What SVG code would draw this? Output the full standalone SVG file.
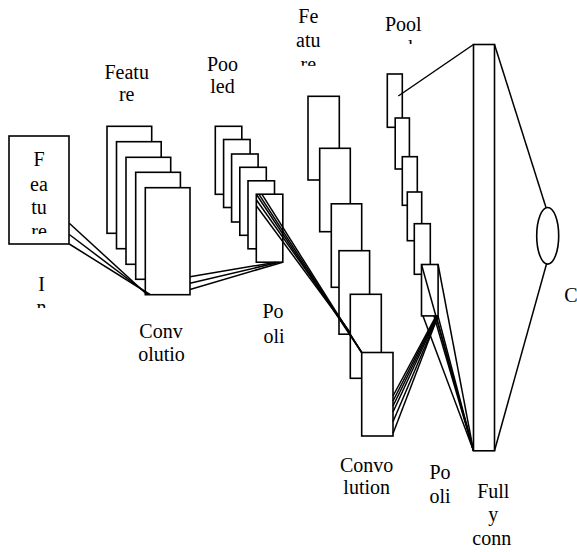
<svg xmlns="http://www.w3.org/2000/svg" width="577" height="552" viewBox="0 0 577 552">
<style>
.b{fill:#fff;stroke:#000;stroke-width:1.6}
.l{stroke:#000;stroke-width:1.5;fill:none}
.t{font-family:"Times New Roman",Tinos,"Liberation Serif","Noto Serif","DejaVu Serif",serif;font-size:20px;fill:#000;text-anchor:middle}
</style>
<defs>
<clipPath id="c1"><rect x="9" y="136" width="60" height="98"/></clipPath>
<clipPath id="c2"><rect x="0" y="260" width="90" height="48"/></clipPath>
<clipPath id="c3"><rect x="280" y="0" width="60" height="65.7"/></clipPath>
<clipPath id="c4"><rect x="370" y="0" width="70" height="44"/></clipPath>
<clipPath id="c5"><rect x="410" y="450" width="60" height="53.5"/></clipPath>
</defs>
<g id="input">
<rect class="b" x="9" y="136" width="60" height="108"/>
<g clip-path="url(#c1)" class="t">
<text x="39" y="166">F</text>
<text x="39" y="190.5">ea</text>
<text x="39" y="214.3">tu</text>
<text x="39" y="238.3">re</text>
</g>
<g clip-path="url(#c2)" class="t">
<text x="41.5" y="290.7">I</text>
<text x="41.5" y="314.3">n</text>
</g>
</g>
<g id="conv1">
<rect class="b" x="107" y="126.3" width="44.7" height="107"/>
<rect class="b" x="116.5" y="141.7" width="44.7" height="107"/>
<rect class="b" x="126" y="157.3" width="44.7" height="107"/>
<rect class="b" x="135.7" y="172.3" width="44.7" height="107"/>
<rect class="b" x="145.3" y="187.7" width="44.7" height="107"/>
<g class="t">
<text x="126.7" y="79.3">Featu</text>
<text x="126.7" y="101">re</text>
<text x="161" y="337.7">Conv</text>
<text x="161.5" y="360.7">olutio</text>
</g>
</g>
<g id="pool1">
<rect class="b" x="215.3" y="126.3" width="26.5" height="68"/>
<rect class="b" x="223.6" y="139.5" width="26.5" height="68"/>
<rect class="b" x="231.6" y="154" width="26.5" height="68"/>
<rect class="b" x="239.8" y="167.3" width="26.5" height="68"/>
<rect class="b" x="248" y="180.8" width="26.5" height="68"/>
<rect class="b" x="256.3" y="194.2" width="26.5" height="68"/>
<g class="t">
<text x="222.5" y="70.7">Poo</text>
<text x="222.5" y="93.3">led</text>
<text x="273" y="318.3">Po</text>
<text x="274" y="342.7">oli</text>
</g>
</g>
<g id="conv2">
<rect class="b" x="308" y="96.3" width="31.3" height="83.7"/>
<rect class="b" x="319.7" y="148.3" width="30.6" height="83.4"/>
<rect class="b" x="331.3" y="203.8" width="30.4" height="83.5"/>
<rect class="b" x="339" y="250.7" width="30.6" height="83.5"/>
<rect class="b" x="350.3" y="294.3" width="31" height="84"/>
<rect class="b" x="361.7" y="352.5" width="31.3" height="83.5"/>
<g clip-path="url(#c3)" class="t">
<text x="308.3" y="23.3">Fe</text>
<text x="308.3" y="47">atu</text>
<text x="308.3" y="70.6">re</text>
</g>
<g class="t">
<text x="366.7" y="471.7">Convo</text>
<text x="366.7" y="494.3">lution</text>
</g>
</g>
<g id="pool2">
<rect class="b" x="387.3" y="74" width="15" height="53.3"/>
<rect class="b" x="395.2" y="118" width="14.2" height="51"/>
<rect class="b" x="402.3" y="156.7" width="15" height="48.6"/>
<rect class="b" x="407.3" y="192" width="14.4" height="48.7"/>
<rect class="b" x="414.3" y="223.7" width="16" height="50.6"/>
<rect class="b" x="421.5" y="264.5" width="16.6" height="51.4"/>
<g clip-path="url(#c4)" class="t">
<text x="403.3" y="30.7">Pool</text>
<text x="403.3" y="54.3">ed</text>
</g>
<g clip-path="url(#c5)" class="t">
<text x="440" y="479.3">Po</text>
<text x="440" y="502.6">oli</text>
</g>
</g>
<g id="fc">
<rect class="b" x="473.5" y="44.5" width="21" height="406.3"/>
<g class="t">
<text x="493.3" y="498.3">Full</text>
<text x="493.3" y="521.3">y</text>
<text x="491.7" y="545">conn</text>
</g>
</g>
<g id="output">
<ellipse class="b" cx="547.7" cy="235.8" rx="11" ry="28.3"/>
<text class="t" x="571" y="301.5">C</text>
</g>
<g id="connectors" class="l">
<line x1="69.3" y1="223.3" x2="147" y2="294.5"/>
<line x1="69.3" y1="234.5" x2="148.5" y2="294.5"/>
<line x1="69.3" y1="244" x2="150" y2="294.5"/>
<line x1="190" y1="276.7" x2="276" y2="262.2"/>
<line x1="190" y1="283.3" x2="279" y2="262.2"/>
<line x1="190" y1="289.5" x2="282.7" y2="262.2"/>
<line x1="256.5" y1="194.5" x2="361.7" y2="352.5"/>
<line x1="259" y1="194.3" x2="361.7" y2="352.5"/>
<line x1="262" y1="194.3" x2="361.7" y2="352.5"/>
<line x1="256.5" y1="200" x2="350.3" y2="333"/>
<line x1="256.5" y1="206" x2="350.3" y2="333"/>
<line x1="393" y1="396" x2="436" y2="316"/>
<line x1="393" y1="401" x2="436.5" y2="316"/>
<line x1="393" y1="406" x2="437" y2="316"/>
<line x1="393" y1="412" x2="437.5" y2="316"/>
<line x1="393" y1="421.7" x2="438" y2="316"/>
<line x1="393" y1="433.5" x2="438" y2="316"/>
<line x1="421.5" y1="264.5" x2="473.5" y2="450.8"/>
<line x1="438.1" y1="264.5" x2="473.5" y2="450.8"/>
<line x1="423" y1="316" x2="473.5" y2="450.8"/>
<line x1="434" y1="316" x2="473.5" y2="450.8"/>
<line x1="436" y1="316" x2="473.5" y2="450.8"/>
<line x1="438" y1="316" x2="473.5" y2="450.8"/>
<line x1="398.3" y1="96" x2="473.5" y2="44.5"/>
<line x1="494.5" y1="44.5" x2="546" y2="207.5"/>
<line x1="546.5" y1="264" x2="494.5" y2="450.8"/>
</g>
</svg>
